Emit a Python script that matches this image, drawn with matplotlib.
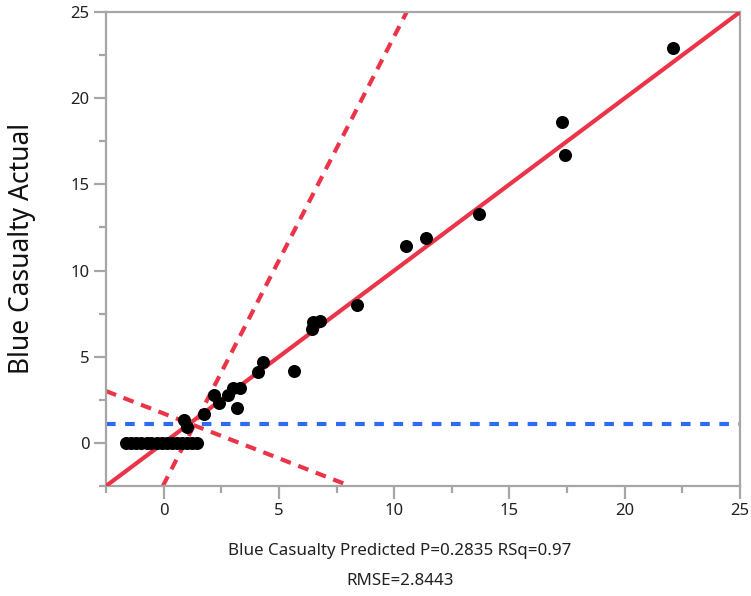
import matplotlib
matplotlib.use("Agg")
import matplotlib.pyplot as plt
from matplotlib.ticker import MultipleLocator

plt.rcParams['font.family'] = ['Noto Sans', 'DejaVu Sans']

# ---- data ----
pred_nonzero = [22.1, 17.3, 17.4, 13.7, 11.4, 10.5, 8.4, 6.8, 6.5, 6.45,
                5.65, 4.3, 4.1, 3.3, 3.0, 2.8, 2.2, 2.4, 3.2, 1.75, 0.9, 1.0]
actual_nonzero = [22.9, 18.6, 16.7, 13.3, 11.9, 11.4, 8.0, 7.1, 7.0, 6.6,
                  4.2, 4.7, 4.1, 3.2, 3.2, 2.8, 2.8, 2.3, 2.0, 1.7, 1.35, 0.9]
pred_zero = [-1.62, -1.42, -1.18, -0.97, -0.74, -0.53, -0.30, -0.08, 0.14,
             0.35, 0.58, 0.80, 1.02, 1.24, 1.46]
actual_zero = [0.0] * len(pred_zero)

mean_actual = 1.07            # horizontal mean line
fit_slope = 1.0               # line of fit (actual = predicted)
fit_intercept = 0.0
conf_cross = (1.32, 1.02)     # where the two confidence curves cross
conf_slopes = [2.6, -0.52]

x_ticks = [0, 5, 10, 15, 20, 25]
y_ticks = [0, 5, 10, 15, 20, 25]
x_label = "Blue Casualty Predicted P=0.2835 RSq=0.97"
rmse_label = "RMSE=2.8443"
y_label = "Blue Casualty Actual"

RED = '#EC3449'
BLUE = '#2F6BF0'
GRAY = '#A6A6A6'

W, H = 751, 596
fig = plt.figure(figsize=(W / 100, H / 100), dpi=100)
ax = fig.add_axes([106 / W, 1 - 486 / H, (740 - 106) / W, (486 - 12) / H])

ax.set_xlim(-2.5, 25)
ax.set_ylim(-2.5, 25)

# fit line
ax.axline((0, fit_intercept), slope=fit_slope, color=RED, lw=3.0, zorder=3,
          solid_capstyle='butt')
# confidence curves
for s in conf_slopes:
    ax.axline(conf_cross, slope=s, color=RED, lw=3.0, zorder=2,
              linestyle=(0, (2.6, 1.9)), dash_capstyle='butt')
# mean line
ax.axhline(mean_actual, color=BLUE, lw=3.0, zorder=2,
           linestyle=(0, (2.3, 2.3)), dash_capstyle='butt')

ax.scatter(pred_zero + pred_nonzero, actual_zero + actual_nonzero,
           s=88, color='black', zorder=5, linewidths=0)

ax.xaxis.set_minor_locator(MultipleLocator(2.5))
ax.yaxis.set_minor_locator(MultipleLocator(2.5))
ax.set_xticks(x_ticks)
ax.set_yticks(y_ticks)
ax.set_xticklabels([str(t) for t in x_ticks])
ax.set_yticklabels([str(t) for t in y_ticks])

for sp in ax.spines.values():
    sp.set_color(GRAY)
    sp.set_linewidth(1.6)

ax.tick_params(which='major', length=9, width=1.6, color=GRAY,
               labelsize=12, labelcolor='#222222', pad=3)
ax.tick_params(which='minor', length=5, width=1.6, color=GRAY)

fig.text(400 / W, 1 - 551 / H, x_label, ha='center', va='center',
         fontsize=12.2, color='#222222')
fig.text(400 / W, 1 - 581 / H, rmse_label, ha='center', va='center',
         fontsize=12.2, color='#222222')
fig.text(22 / W, 1 - 248 / H, y_label, ha='center', va='center',
         rotation=90, fontsize=19, color='#111111')

fig.savefig('out.png', dpi=100)
